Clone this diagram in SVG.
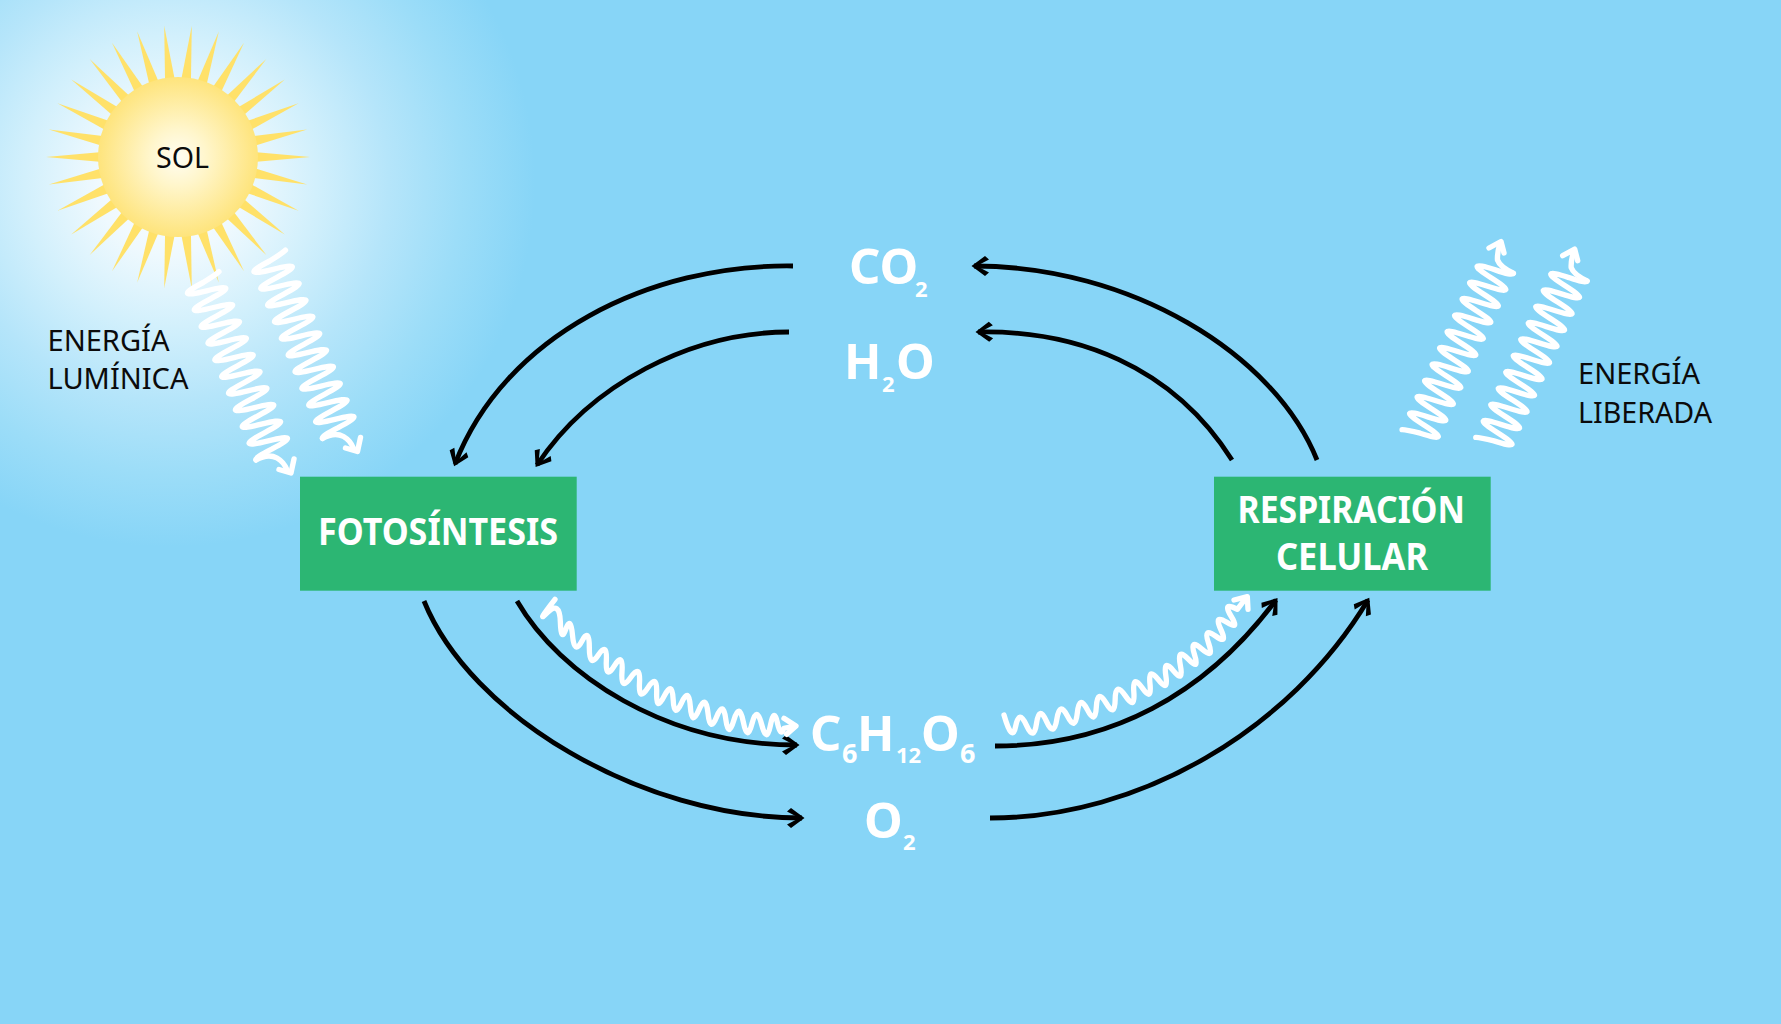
<svg xmlns="http://www.w3.org/2000/svg" xmlns:xlink="http://www.w3.org/1999/xlink" width="1781" height="1024" viewBox="0 0 1781 1024">
<style>
text{font-family:"Noto Sans","Open Sans","Liberation Sans",sans-serif}
.lab{font-size:29px;fill:#0b0b0b}
.box{font-size:37px;font-weight:700;fill:#fff}
.f{font-size:49px;font-weight:700;fill:#fff}
.s{font-size:22px;font-weight:700}
.s2{font-size:27px;font-weight:700}
.s3{font-size:22px;font-weight:700}
.arc{fill:none;stroke:#000;stroke-width:4.8;marker-end:url(#ah)}
.w{fill:none;stroke:#fff;stroke-width:5.4;stroke-linejoin:round;stroke-linecap:round}
.wl{vector-effect:non-scaling-stroke}
.ws{fill:none;stroke:#fff;stroke-width:16;stroke-linejoin:round;stroke-linecap:round}
.rect{fill:#2CB673}
</style>
<defs>
<radialGradient id="glow" gradientUnits="userSpaceOnUse" cx="170" cy="182" r="365">
<stop offset="0" stop-color="#fff"/><stop offset=".2" stop-color="#EFF9FE"/><stop offset=".4" stop-color="#D2F0FC"/><stop offset=".6" stop-color="#B5E5FA"/><stop offset=".8" stop-color="#9CDDF8"/><stop offset="1" stop-color="#87D5F7"/>
</radialGradient>
<radialGradient id="core"><stop offset="0" stop-color="#FFFDF2"/><stop offset=".35" stop-color="#FFF6CC"/><stop offset="1" stop-color="#FEE47C"/></radialGradient>
<path id="ray" d="M-5,-76 L0,-132 L5,-76Z" fill="#FFE169"/>
<marker id="ah" markerUnits="userSpaceOnUse" orient="auto" overflow="visible" markerWidth="30" markerHeight="30" refX="0" refY="0">
<path d="M2.5,0 L-11,-10 L-15,-6.5 L-6.5,-2 L-6.5,2 L-15,6.5 L-11,10 Z" fill="#000"/>
</marker>
<g id="wDown">
<path class="w wl" transform="matrix(.3425 .8335 .918 -.35 203.2 282.5)" d="M-5,19 Q-3,15 0,0 Q5,-38 10,0 T20,0 T30,0 T40,0 T50,0 T60,0 T70,0 T80,0 T90,0 T100,0 T110,0 T120,0 T130,0 T140,0 T150,0 T160,0 T170,0 T180,0 T190,0 T200,0 Q202,-19 205,-19"/>
<path class="w" d="M256,460 Q268,453 277,458 Q284,462 287,470"/>
<path class="w" d="M279,469.5 L291,473 L294,459"/>
</g>
<g id="wUp">
<path class="w wl" transform="matrix(.375 -.8167 .901 .423 1420.2 433.2)" d="M-5,-18 Q-3,-14 0,0 Q5,36 10,0 T20,0 T30,0 T40,0 T50,0 T60,0 T70,0 T80,0 T90,0 T100,0 T110,0 T120,0 T130,0 T140,0 T150,0 T160,0 T170,0 T180,0 T190,0 T200,0 Q202,18 205,18"/>
<path class="w" d="M1513.4,273.3 Q1500,267 1497.5,260 Q1497,254 1500,243"/>
<path class="w" d="M1489,248 L1501,241.5 L1504,253"/>
</g>
</defs>
<rect width="1781" height="1024" fill="#87D5F7"/>
<rect width="560" height="560" fill="url(#glow)"/>

<g id="sol">
<g transform="translate(178 157)">
<use xlink:href="#ray" transform="rotate(6)"/><use xlink:href="#ray" transform="rotate(18)"/><use xlink:href="#ray" transform="rotate(30)"/><use xlink:href="#ray" transform="rotate(42)"/><use xlink:href="#ray" transform="rotate(54)"/><use xlink:href="#ray" transform="rotate(66)"/><use xlink:href="#ray" transform="rotate(78)"/><use xlink:href="#ray" transform="rotate(90)"/><use xlink:href="#ray" transform="rotate(102)"/><use xlink:href="#ray" transform="rotate(114)"/><use xlink:href="#ray" transform="rotate(126)"/><use xlink:href="#ray" transform="rotate(138)"/><use xlink:href="#ray" transform="rotate(150)"/><use xlink:href="#ray" transform="rotate(162)"/><use xlink:href="#ray" transform="rotate(174)"/><use xlink:href="#ray" transform="rotate(186)"/><use xlink:href="#ray" transform="rotate(198)"/><use xlink:href="#ray" transform="rotate(210)"/><use xlink:href="#ray" transform="rotate(222)"/><use xlink:href="#ray" transform="rotate(234)"/><use xlink:href="#ray" transform="rotate(246)"/><use xlink:href="#ray" transform="rotate(258)"/><use xlink:href="#ray" transform="rotate(270)"/><use xlink:href="#ray" transform="rotate(282)"/><use xlink:href="#ray" transform="rotate(294)"/><use xlink:href="#ray" transform="rotate(306)"/><use xlink:href="#ray" transform="rotate(318)"/><use xlink:href="#ray" transform="rotate(330)"/><use xlink:href="#ray" transform="rotate(342)"/><use xlink:href="#ray" transform="rotate(354)"/>
<circle r="80" fill="url(#core)"/>
</g>
<text class="lab" x="156" y="168.3" textLength="53" lengthAdjust="spacingAndGlyphs">SOL</text>
</g>

<g id="connectors">
<path class="arc" d="M793,266 C650,264 505,335 455,464"/>
<path class="arc" d="M789,332 C690,332 590,385 537,465"/>
<path class="arc" d="M1317,460 C1274,353 1130,266 974,266"/>
<path class="arc" d="M1232,460 C1172,365 1075,330 978,332"/>
<path class="arc" d="M424,601 C470,715 640,818 802,818"/>
<path class="arc" d="M517,601 C560,675 665,745 797,745"/>
<path class="arc" d="M995,746 C1110,746 1205,695 1276,600"/>
<path class="arc" d="M990,818 C1140,818 1290,730 1368,600"/>
<use xlink:href="#wDown"/>
<use xlink:href="#wDown" transform="translate(66.5 -21.5)"/>
<use xlink:href="#wUp"/>
<use xlink:href="#wUp" transform="translate(73.7 7.7)"/>
<g transform="translate(500 580) scale(.33333)">
<path class="ws" d="M165,58 Q105,135 142,98 Q179,61 181,125 Q183,189 197.5,147.5 Q212,106 217.5,166 Q223,226 245.5,183.5 Q268,141 268,203.5 Q268,266 295,225 Q322,184 319,242.5 Q316,301 343,257.5 Q370,214 366,275 Q362,336 392,292.5 Q422,249 418.5,308.5 Q415,368 443.5,323.5 Q472,279 470,338.5 Q468,398 492.5,348.5 Q517,299 519.5,358.5 Q522,418 544.5,368.5 Q567,319 571,380 Q575,441 596.5,390 Q618,339 624,400 Q630,461 650,410 Q670,359 677.5,418.5 Q685,478 701.5,421 Q718,364 730,426 Q742,488 756,431 Q770,374 785,433.5 Q800,493 811,437 Q822,381 832,427.5 Q842,474 852,445 L885,438"/>
<path class="ws" d="M852,415 L888,438 L860,463"/>
</g>
<g transform="translate(980 570) scale(.33333)">
<path class="ws" d="M72,435 Q97,521 107,468.5 Q117,416 139.5,466 Q162,516 169.5,460 Q177,404 199.5,454 Q222,504 230.5,447.5 Q239,391 262.5,438.5 Q286,486 292,428.5 Q298,371 322,419 Q346,467 349,410.5 Q352,354 378.5,399.5 Q405,445 405.5,388.5 Q406,332 436,377.5 Q466,423 461.5,366.5 Q457,310 486.5,353.5 Q516,397 510,342.5 Q504,288 535,329 Q566,370 557.5,317 Q549,264 580.5,302.5 Q612,341 601,285.5 Q590,230 625,267.5 Q660,305 643.5,254 Q627,203 665.5,237 Q704,271 686,220.5 Q668,170 706.5,198 Q745,226 722.5,178.5 Q700,131 740.5,157 Q781,183 753,138 Q725,93 772,118 L798,84"/>
<path class="ws" d="M762,90 L802,80 L804,118"/>
</g>
</g>

<g id="fotosintesis">
<rect class="rect" x="300" y="476.7" width="276.7" height="114"/>
<text class="box" x="318" y="545" textLength="240" lengthAdjust="spacingAndGlyphs">FOTOSÍNTESIS</text>
</g>
<g id="respiracion">
<rect class="rect" x="1214" y="476.7" width="276.7" height="114"/>
<text class="box" x="1237.5" y="522.7" textLength="227.5" lengthAdjust="spacingAndGlyphs">RESPIRACIÓN</text>
<text class="box" x="1276" y="570" textLength="152" lengthAdjust="spacingAndGlyphs">CELULAR</text>
</g>
<g id="energia-luminica">
<text class="lab" x="47.5" y="350.7" textLength="122" lengthAdjust="spacingAndGlyphs">ENERGÍA</text>
<text class="lab" x="47.5" y="389" textLength="141" lengthAdjust="spacingAndGlyphs">LUMÍNICA</text>
</g>
<g id="energia-liberada">
<text class="lab" x="1578" y="384" textLength="122" lengthAdjust="spacingAndGlyphs">ENERGÍA</text>
<text class="lab" x="1578" y="422.7" textLength="134" lengthAdjust="spacingAndGlyphs">LIBERADA</text>
</g>
<g id="co2"><text class="f"><tspan x="849" y="284.3">CO</tspan><tspan class="s" x="915" y="296.7">2</tspan></text></g>
<g id="h2o"><text class="f"><tspan x="844" y="379.3">H</tspan><tspan class="s" x="882" y="391.7">2</tspan><tspan x="896" y="379.3">O</tspan></text></g>
<g id="c6h12o6"><text class="f"><tspan x="810" y="750.7">C</tspan><tspan class="s2" x="842" y="762.7">6</tspan><tspan x="857" y="750.7">H</tspan><tspan class="s3" x="896" y="762.7">12</tspan><tspan x="921" y="750.7">O</tspan><tspan class="s2" x="960" y="762.7">6</tspan></text></g>
<g id="o2"><text class="f"><tspan x="864" y="838.3">O</tspan><tspan class="s" x="903" y="850">2</tspan></text></g>
</svg>
